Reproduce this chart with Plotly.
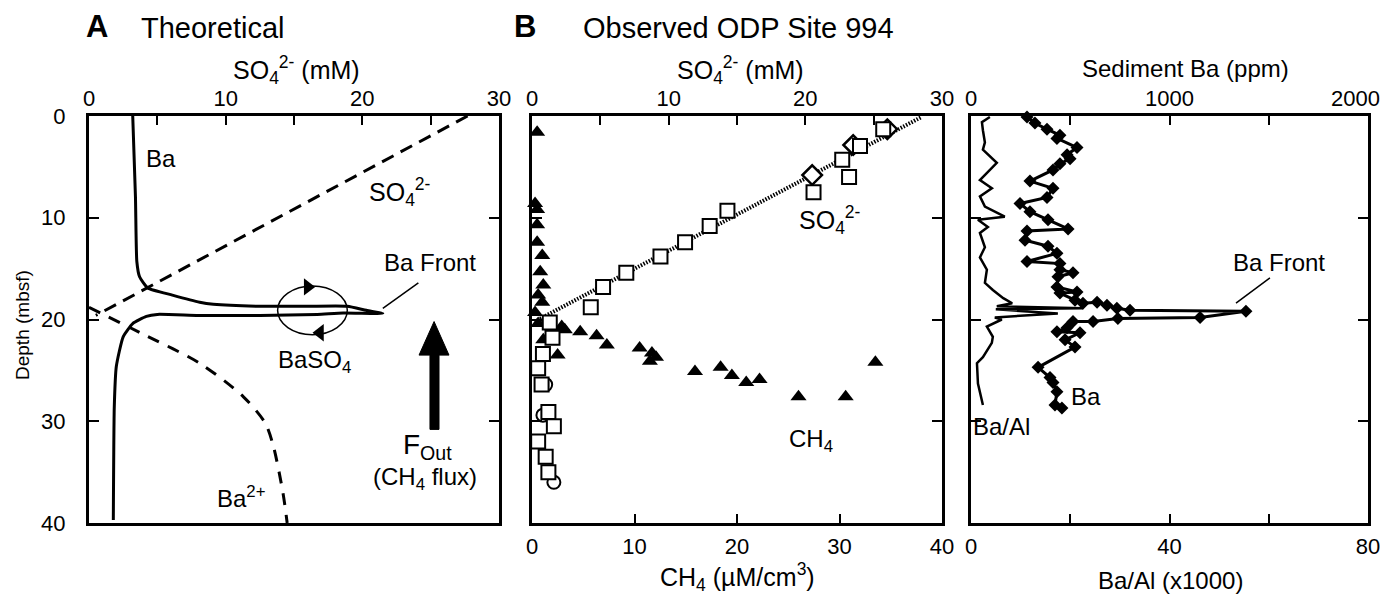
import plotly.graph_objects as go

W, H = 1385, 594
FONT = "Liberation Sans"

# ---------------- Panel A (theoretical) ----------------
a_ba_x = [3.2, 3.4, 3.5, 3.7, 4.3, 6.1, 8.1, 9.1, 12.5, 16.0, 18.9, 20.3, 21.5,
          18.6, 16.7, 12.5, 8.0, 5.0, 4.2, 3.2, 2.5, 2.0, 1.85, 1.78]
a_ba_d = [0.0, 8.0, 14.3, 15.8, 16.9, 17.6, 18.3, 18.5, 18.7, 18.7, 18.7, 19.1, 19.4,
          19.35, 19.5, 19.6, 19.6, 19.5, 19.7, 20.4, 21.7, 24.6, 28.6, 39.7]
a_so4_x = [27.7, 0.5]
a_so4_d = [0.0, 19.6]
a_ba2_x = [0.0, 4.2, 8.1, 11.3, 12.9, 13.5, 14.2, 14.5]
a_ba2_d = [18.8, 21.6, 24.3, 27.6, 30.2, 32.5, 37.1, 40.0]

# ---------------- Panel B (ODP Site 994) ----------------
b_so4_sq = [25.7, 24.0, 22.7, 23.2, 20.6, 14.3, 13.0, 11.2, 9.4, 6.9, 5.2, 4.3,
            1.3, 1.5, 0.8, 0.45, 0.7, 1.2, 1.6, 0.45, 1.0, 1.2]
b_so4_sq_d = [1.3, 2.95, 4.3, 6.0, 7.5, 9.3, 10.8, 12.4, 13.8, 15.4, 16.8, 18.8,
              20.3, 21.8, 23.4, 24.8, 26.4, 29.1, 30.5, 32.0, 33.5, 35.0]
b_so4_dia = [26.0, 23.5, 20.5]
b_so4_dia_d = [1.3, 2.85, 5.8]
b_so4_circ = [1.0, 0.8, 1.6]
b_so4_circ_d = [26.4, 29.4, 36.0]
b_fit_x = [0.2, 28.5]
b_fit_d = [20.2, 0.1]
b_ch4 = [0.5, 0.3, 0.5, 0.5, 0.5, 1.0, 0.8, 1.1, 0.6, 1.0, 0.3, 0.6,
         2.9, 3.2, 4.7, 6.3, 7.3, 1.1, 2.5, 10.5, 11.7, 12.1, 11.5,
         15.9, 18.4, 19.5, 20.9, 22.2, 26.0, 30.6, 33.5]
b_ch4_d = [1.6, 8.6, 9.2, 10.7, 12.4, 13.7, 15.3, 16.6, 17.6, 18.3, 19.3, 20.4,
           20.7, 21.0, 21.2, 21.6, 22.5, 22.0, 23.5, 22.8, 23.3, 23.7, 24.1,
           25.1, 24.7, 25.5, 26.2, 25.9, 27.6, 27.6, 24.2]

# ---------------- Panel C (sediment Ba) ----------------
c_baal = [3.8, 2.2, 2.4, 2.8, 2.4, 5.2, 1.8, 4.2, 1.8, 2.8, 6.8, 1.4, 3.4, 1.8,
          2.8, 1.8, 3.2, 2.8, 4.4, 6.5, 8.3, 5.2, 22.6, 5.0, 17.5, 4.8, 6.2,
          3.2, 4.4, 4.2, 2.4, 1.2, 1.4, 2.4]
c_baal_d = [0.1, 0.6, 1.4, 2.6, 3.3, 4.6, 6.3, 7.1, 7.9, 8.9, 9.9, 10.2, 10.9, 11.5,
            12.9, 13.9, 15.1, 16.4, 17.1, 17.9, 18.4, 18.7, 18.9, 19.0, 19.4, 19.8, 20.0,
            20.7, 21.7, 22.3, 23.7, 24.3, 26.3, 28.4]
c_ba = [282, 322, 383, 448, 433, 534, 484, 499, 448, 413, 297, 413, 383, 247, 297,
        388, 489, 282, 272, 388, 433, 282, 448, 448, 514, 438, 433, 534, 448, 524,
        564, 635, 685, 735, 801, 1385, 1154, 740, 615, 514, 484, 433, 549, 474, 524,
        338, 398, 413, 433, 423, 458]
c_ba_d = [0.1, 0.7, 1.3, 1.9, 2.2, 3.1, 3.8, 4.2, 4.7, 5.3, 6.4, 7.1, 8.0, 8.6, 9.4,
          10.2, 11.1, 11.3, 12.2, 12.8, 13.5, 14.3, 14.5, 15.1, 15.4, 15.8, 16.8, 17.3,
          17.4, 18.1, 18.4, 18.3, 18.6, 18.9, 19.1, 19.2, 19.8, 19.9, 20.2, 20.2, 20.8,
          21.2, 21.3, 22.0, 22.7, 24.7, 25.7, 26.2, 27.1, 28.4, 28.7]

depth_ticks = [0, 10, 20, 30, 40]
ba_ticks = [0, 1000, 2000]
ba_ticktext = ["0", "1000", ""]   # "2000" drawn as annotation (nudged inside page)

fig = go.Figure()
blk = "black"

# Panel A traces
fig.add_trace(go.Scatter(x=a_so4_x, y=a_so4_d, mode="lines", xaxis="x", yaxis="y",
                         line=dict(color=blk, width=3, dash="13px,8px")))
fig.add_trace(go.Scatter(x=a_ba2_x, y=a_ba2_d, mode="lines", xaxis="x", yaxis="y",
                         line=dict(color=blk, width=3, dash="12px,10px", shape="spline", smoothing=0.8)))
fig.add_trace(go.Scatter(x=a_ba_x, y=a_ba_d, mode="lines", xaxis="x", yaxis="y",
                         line=dict(color=blk, width=3, shape="spline", smoothing=0.5)))
fig.add_trace(go.Scatter(x=[16.0], y=[16.8], mode="markers", xaxis="x", yaxis="y",
                         marker=dict(symbol="triangle-right", size=15, color=blk)))
fig.add_trace(go.Scatter(x=[16.9], y=[21.3], mode="markers", xaxis="x", yaxis="y",
                         marker=dict(symbol="triangle-left", size=15, color=blk)))

# Panel B traces
fig.add_trace(go.Scatter(x=b_ch4, y=b_ch4_d, mode="markers", xaxis="x2", yaxis="y2", cliponaxis=False,
                         marker=dict(symbol="triangle-up", size=14, color=blk)))
fig.add_trace(go.Scatter(x=b_fit_x, y=b_fit_d, mode="lines", xaxis="x3", yaxis="y2",
                         line=dict(color=blk, width=4, dash="1.5px,1.5px")))
fig.add_trace(go.Scatter(x=b_so4_circ, y=b_so4_circ_d, mode="markers", xaxis="x3", yaxis="y2", cliponaxis=False,
                         marker=dict(symbol="circle", size=13, color="white", line=dict(color=blk, width=2))))
fig.add_trace(go.Scatter(x=b_so4_dia, y=b_so4_dia_d, mode="markers", xaxis="x3", yaxis="y2", cliponaxis=False,
                         marker=dict(symbol="diamond", size=15, color="white", line=dict(color=blk, width=2.5))))
fig.add_trace(go.Scatter(x=b_so4_sq, y=b_so4_sq_d, mode="markers", xaxis="x3", yaxis="y2", cliponaxis=False,
                         marker=dict(symbol="square", size=14, color="white", line=dict(color=blk, width=2))))

# Panel C traces
fig.add_trace(go.Scatter(x=c_baal, y=c_baal_d, mode="lines", xaxis="x4", yaxis="y3",
                         line=dict(color=blk, width=2.5)))
fig.add_trace(go.Scatter(x=c_ba, y=c_ba_d, mode="lines+markers", xaxis="x5", yaxis="y3", cliponaxis=False,
                         line=dict(color=blk, width=3),
                         marker=dict(symbol="diamond", size=10, color=blk)))

AX = [89 / W, 499 / W]
BX = [532 / W, 942 / W]
CX = [971 / W, 1368 / W]
YD = [1 - 523 / H, 1 - 116 / H]

tickfont = dict(family=FONT, size=22, color=blk)
common = dict(showline=True, linewidth=3, linecolor=blk, ticks="inside", ticklen=9,
              tickwidth=2, tickcolor=blk, showgrid=False, zeroline=False, tickfont=tickfont,
              automargin=False)


def minor(vals):
    return dict(tickvals=vals, ticks="inside", ticklen=9, tickwidth=2, tickcolor=blk, showgrid=False)


yax = dict(common, domain=YD, range=[40, 0], tickvals=depth_ticks, mirror="ticks", ticklen=10)

fig.update_layout(
    width=W, height=H, autosize=False,
    margin=dict(l=0, r=0, t=0, b=0, autoexpand=False),
    paper_bgcolor="white", plot_bgcolor="white",
    showlegend=False,
    font=dict(family=FONT, color=blk),
    xaxis=dict(common, domain=AX, anchor="y", side="top", range=[0, 30],
               tickvals=[0, 10, 20, 30], mirror=True, minor=minor([5, 15, 25]),
               ticklabelstandoff=-2),
    yaxis=dict(yax, anchor="x", showticklabels=True, ticklabelstandoff=16),
    xaxis2=dict(common, domain=BX, anchor="y2", side="bottom", range=[0, 40],
                tickvals=[0, 10, 20, 30, 40], ticklabelstandoff=2),
    xaxis3=dict(common, overlaying="x2", anchor="y2", side="top", range=[0, 30],
                tickvals=[0, 10, 20, 30], minor=minor([5, 15, 25]), ticklabelstandoff=-2),
    yaxis2=dict(yax, anchor="x2", showticklabels=False),
    xaxis4=dict(common, domain=CX, anchor="y3", side="bottom", range=[0, 80],
                tickvals=[0, 40, 80], minor=minor([20, 60]), ticklabelstandoff=2),
    xaxis5=dict(common, overlaying="x4", anchor="y3", side="top", range=[0, 2000],
                tickvals=ba_ticks, ticktext=ba_ticktext, minor=minor([500, 1500]),
                ticklabelstandoff=-2),
    yaxis3=dict(yax, anchor="x4", showticklabels=False),
)


def ann(text, x, y, size=24, xanchor="center", bold=False, textangle=0):
    fig.add_annotation(text=("<b>%s</b>" % text) if bold else text,
                       x=x / W, y=1 - y / H, xref="paper", yref="paper",
                       showarrow=False, xanchor=xanchor, yanchor="middle",
                       textangle=textangle,
                       font=dict(family=FONT, size=size, color=blk))


# Headings
ann("A", 97, 27, size=31, bold=True)
ann("Theoretical", 139, 28, size=29, xanchor="left")
ann("B", 525, 27, size=31, bold=True)
ann("Observed ODP Site 994", 581, 28, size=29, xanchor="left")

# Axis titles
ann("SO<sub>4</sub><sup>2-</sup> (mM)", 296, 70, size=25)
ann("SO<sub>4</sub><sup>2-</sup> (mM)", 740, 70, size=25)
ann("Sediment Ba (ppm)", 1185, 68)
ann(str(ba_ticks[-1]), 1355, 99, size=22)
ann("CH<sub>4</sub> (µM/cm<sup>3</sup>)", 737, 577, size=25)
ann("Ba/Al (x1000)", 1170, 580)
ann("Depth (mbsf)", 22, 325, size=19, textangle=-90)

# Panel A labels
ann("Ba", 161, 158)
ann("SO<sub>4</sub><sup>2-</sup>", 400, 192, size=25)
ann("Ba Front", 430, 263)
ann("BaSO<sub>4</sub>", 314, 361)
ann("Ba<sup>2+</sup>", 241, 497)
ann("F<sub>Out</sub>", 427, 446, size=28)
ann("(CH<sub>4</sub> flux)", 425, 478)

# Panel B labels
ann("SO<sub>4</sub><sup>2-</sup>", 830, 220, size=25)
ann("CH<sub>4</sub>", 811, 440)

# Panel C labels
ann("Ba Front", 1279, 263)
ann("Ba", 1086, 396)
ann("Ba/Al", 1002, 426)

# Panel A: BaSO4 loop, Ba front leader, F_out arrow
fig.add_shape(type="circle", xref="x", yref="y", x0=13.8, x1=18.9, y0=16.7, y1=21.5,
              line=dict(color=blk, width=1.5))
fig.add_shape(type="line", xref="x", yref="y", x0=21.5, y0=18.9, x1=24.1, y1=16.4,
              line=dict(color=blk, width=1.5))
fig.add_shape(type="path", xref="x", yref="y",
              path="M 24.95 30.8 L 24.95 23.5 L 24.15 23.5 L 25.25 20.2 L 26.34 23.5 L 25.61 23.5 L 25.61 30.8 Z",
              fillcolor=blk, line=dict(color=blk, width=1))
# Panel C: Ba front leader
fig.add_shape(type="line", xref="x5", yref="y3", x0=1335, y0=18.4, x1=1506, y1=15.9,
              line=dict(color=blk, width=1.5))

fig.write_html("out.html", config={"displayModeBar": False},
               post_script="document.body.style.margin='0';document.body.style.overflow='hidden';")
